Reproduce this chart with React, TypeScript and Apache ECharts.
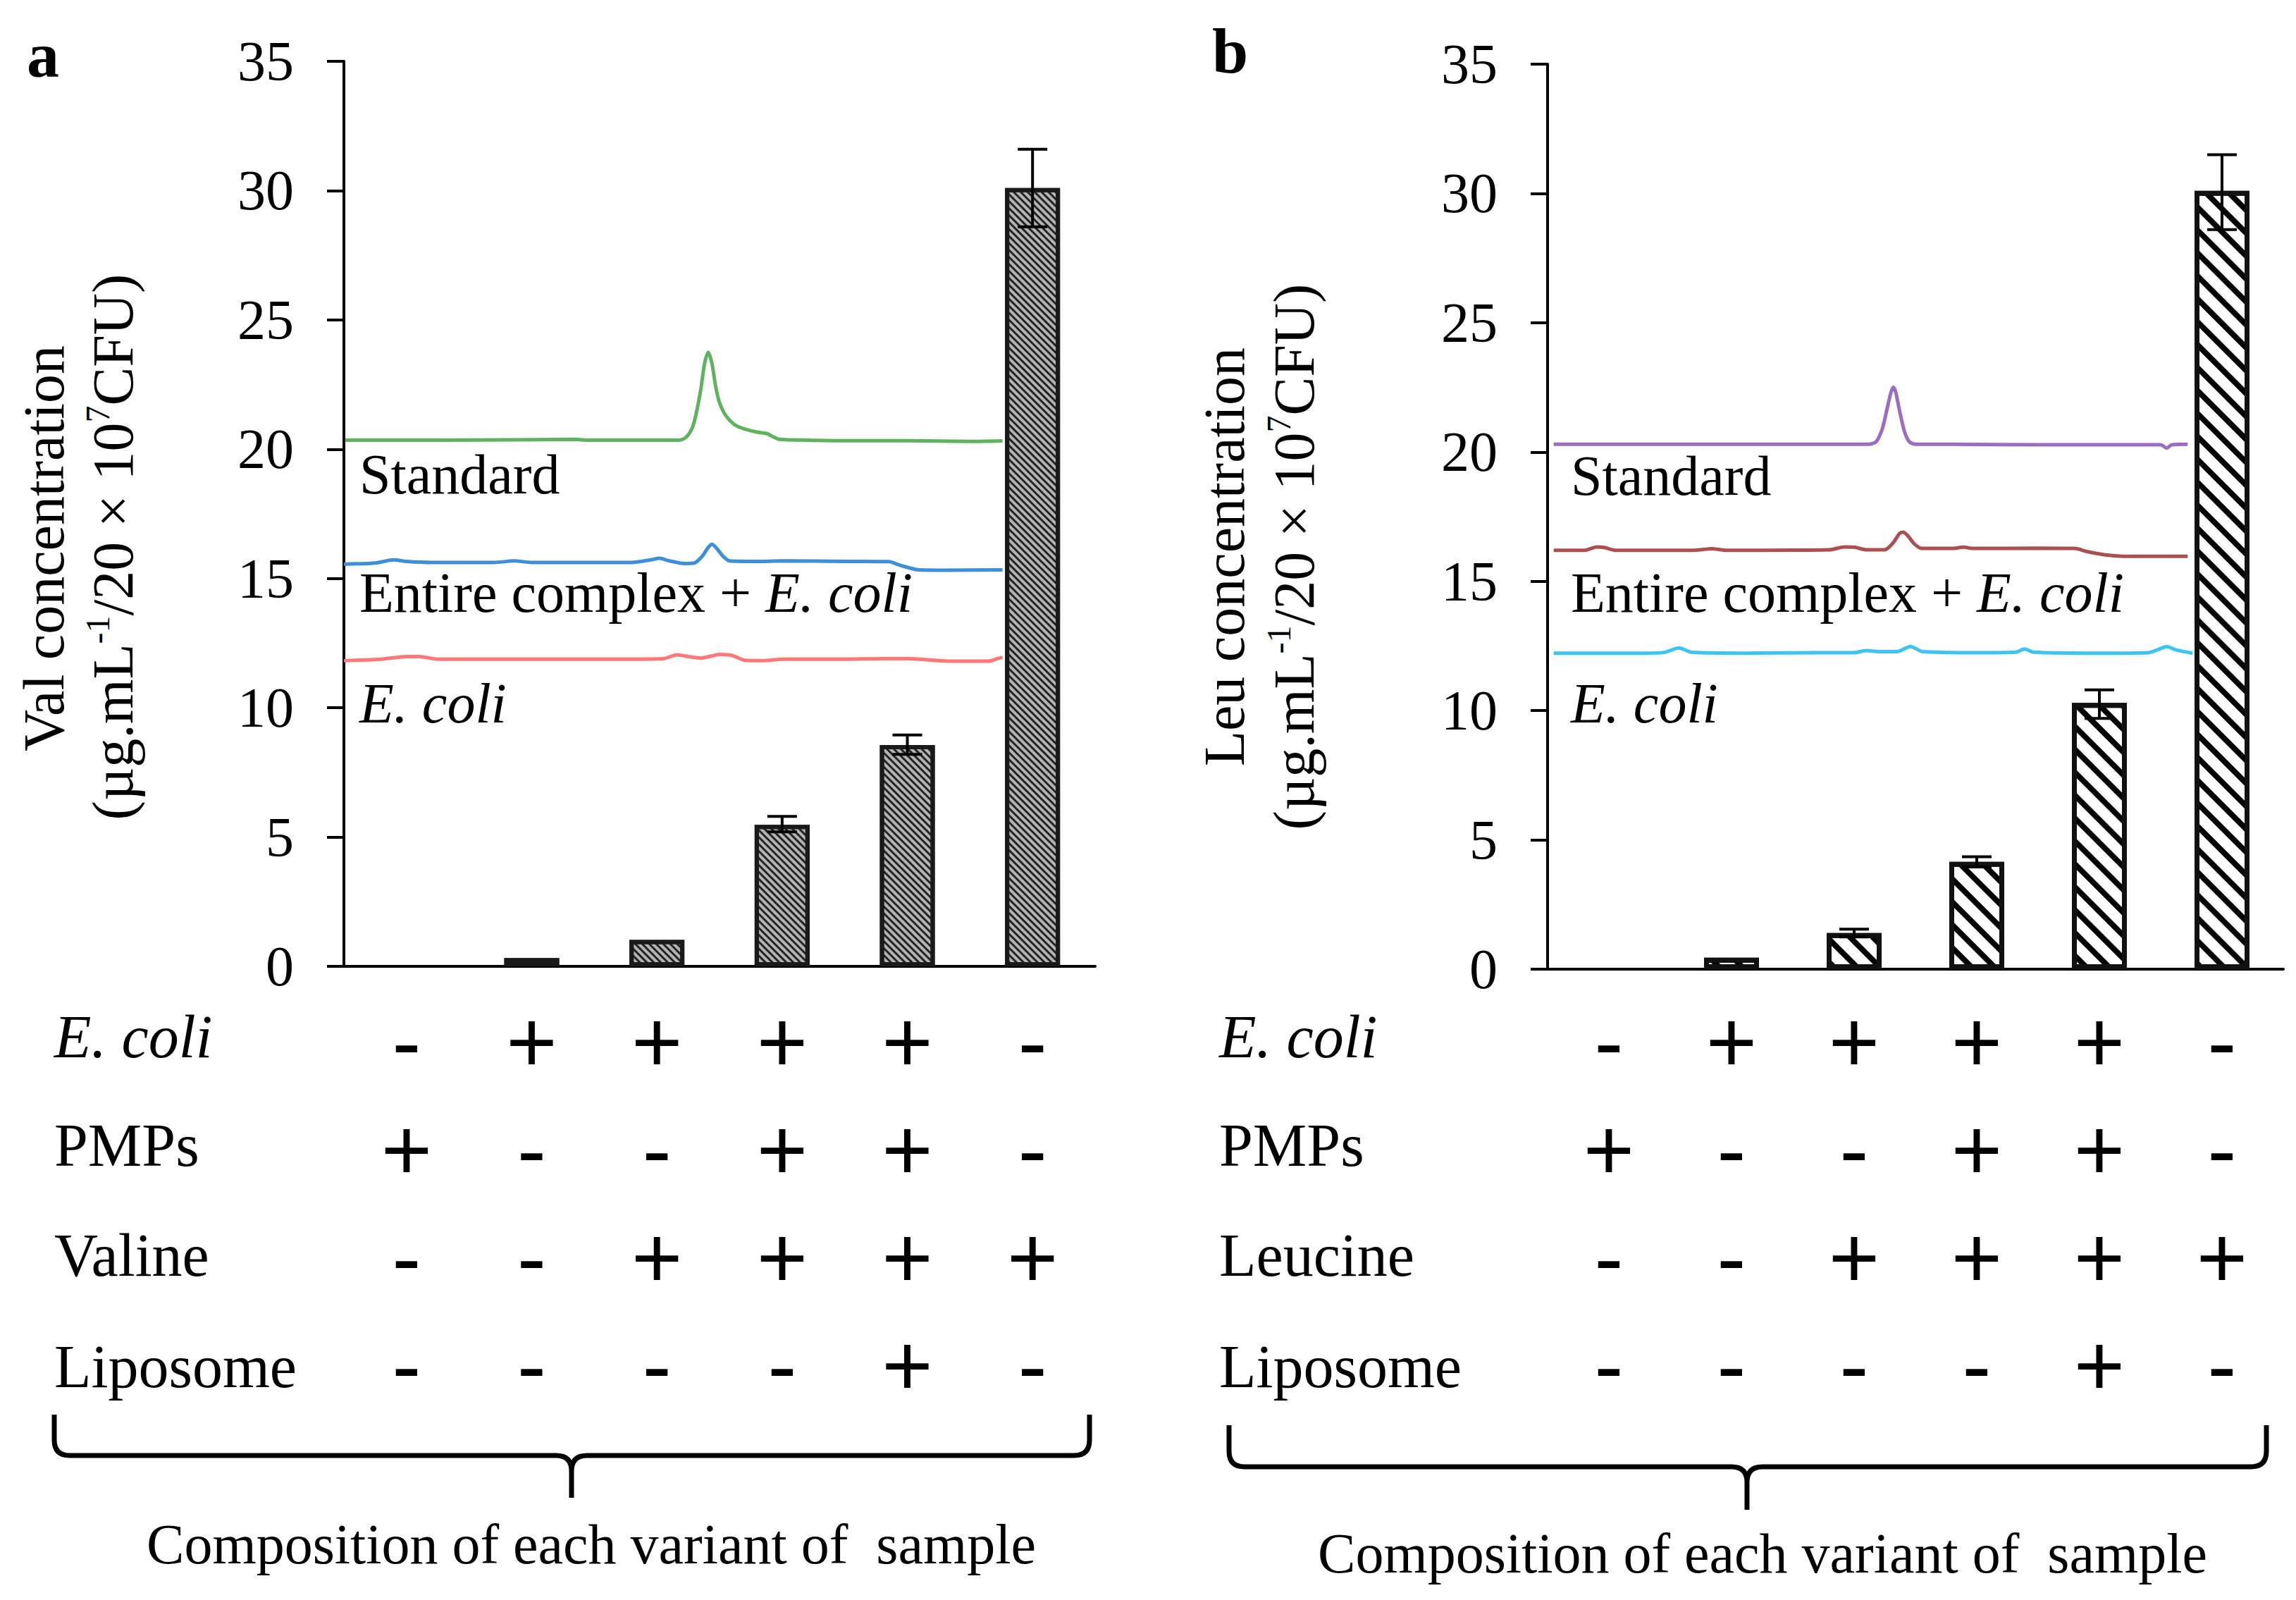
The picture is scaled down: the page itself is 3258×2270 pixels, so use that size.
import React, { useEffect, useRef } from "react";
import * as echarts from "echarts";

// ---------------- data ----------------
const categories = ["S1", "S2", "S3", "S4", "S5", "S6"];
const valuesA = [0, 0.32, 1.02, 5.47, 8.56, 30.1];
const errorsA = [
  [3, 5.2, 5.8],
  [4, 8.2, 8.95],
  [5, 28.6, 31.6],
];
const valuesB = [0, 0.44, 1.4, 4.15, 10.3, 30.1];
const errorsB = [
  [2, 1.25, 1.55],
  [3, 3.95, 4.35],
  [4, 9.7, 10.8],
  [5, 28.6, 31.5],
];
const yMin = 0;
const yMax = 35;
const yStep = 5;

const rowNamesA = ["E. coli", "PMPs", "Valine", "Liposome"];
const rowNamesB = ["E. coli", "PMPs", "Leucine", "Liposome"];
const signs = [
  ["-", "+", "+", "+", "+", "-"],
  ["+", "-", "-", "+", "+", "-"],
  ["-", "-", "+", "+", "+", "+"],
  ["-", "-", "-", "-", "+", "-"],
];

// chromatogram traces (x in category units 0..6, y in axis units)
const standardA = [[0.01,20.35],[0.8,20.35],[1.85,20.38],[1.95,20.35],[2.68,20.35],[2.73,20.45],[2.78,20.8],[2.81,21.3],[2.85,22.3],[2.88,23.3],[2.91,23.75],[2.94,23.3],[2.97,22.4],[3.0,21.8],[3.05,21.3],[3.12,20.95],[3.2,20.78],[3.3,20.66],[3.38,20.6],[3.42,20.5],[3.48,20.38],[3.7,20.35],[4.0,20.33],[4.5,20.33],[5.0,20.3],[5.26,20.32]];
const complexA = [[0.0,15.55],[0.25,15.6],[0.4,15.72],[0.5,15.66],[0.7,15.62],[1.2,15.62],[1.36,15.68],[1.5,15.62],[2.3,15.62],[2.45,15.72],[2.52,15.78],[2.6,15.68],[2.72,15.58],[2.8,15.6],[2.86,15.85],[2.91,16.2],[2.94,16.32],[2.98,16.15],[3.03,15.85],[3.08,15.68],[3.3,15.66],[3.5,15.68],[4.0,15.66],[4.35,15.65],[4.45,15.5],[4.58,15.34],[4.8,15.32],[5.26,15.33]];
const ecoliA = [[0.0,11.82],[0.3,11.88],[0.5,11.98],[0.6,11.98],[0.75,11.88],[1.5,11.88],[2.2,11.88],[2.55,11.9],[2.66,12.05],[2.75,11.98],[2.85,11.92],[3.0,12.06],[3.1,12.02],[3.2,11.84],[3.35,11.82],[3.5,11.88],[4.0,11.88],[4.3,11.9],[4.5,11.9],[4.65,11.86],[4.85,11.8],[5.15,11.8],[5.22,11.9],[5.26,11.95]];
const standardB = [[0.05,20.3],[1.0,20.3],[2.0,20.3],[2.62,20.3],[2.68,20.4],[2.73,20.9],[2.77,21.7],[2.8,22.3],[2.82,22.5],[2.84,22.3],[2.87,21.6],[2.91,20.8],[2.95,20.4],[3.0,20.3],[3.3,20.3],[4.0,20.28],[5.0,20.28],[5.05,20.15],[5.09,20.28],[5.22,20.3]];
const complexB = [[0.05,16.2],[0.3,16.2],[0.4,16.33],[0.47,16.3],[0.55,16.2],[1.2,16.2],[1.34,16.26],[1.45,16.2],[2.3,16.22],[2.42,16.33],[2.5,16.32],[2.6,16.22],[2.75,16.22],[2.82,16.5],[2.87,16.85],[2.9,16.9],[2.94,16.75],[2.99,16.45],[3.05,16.27],[3.3,16.27],[3.39,16.32],[3.47,16.27],[4.0,16.28],[4.3,16.27],[4.4,16.15],[4.55,16.02],[4.7,15.97],[5.22,15.97]];
const ecoliB = [[0.05,12.22],[0.8,12.22],[0.95,12.25],[1.07,12.42],[1.18,12.25],[1.6,12.22],[2.2,12.24],[2.5,12.24],[2.6,12.32],[2.7,12.28],[2.85,12.28],[2.96,12.48],[3.06,12.28],[3.5,12.24],[3.82,12.26],[3.89,12.38],[3.96,12.26],[4.5,12.22],[4.9,12.24],[5.0,12.4],[5.05,12.48],[5.12,12.35],[5.26,12.22]];

// ---------------- styles ----------------
const SERIF = '"Liberation Serif", "Times New Roman", serif';
const SANS = '"Liberation Sans", Arial, sans-serif';

function braceD(x0: number, x1: number, xm: number, yTop: number, yH: number, yTip: number) {
  const r = 22;
  return (
    `M${x0} ${yTop} L${x0} ${yH - r} Q${x0} ${yH} ${x0 + r} ${yH} L${xm - r} ${yH} Q${xm} ${yH} ${xm} ${yH + r} L${xm} ${yTip} ` +
    `M${xm} ${yH + r} Q${xm} ${yH} ${xm + r} ${yH} L${x1 - r} ${yH} Q${x1} ${yH} ${x1} ${yH - r} L${x1} ${yTop}`
  );
}

echarts.graphic.registerShape("braceA", echarts.graphic.extendPath(braceD(77, 1546, 811, 2007, 2065, 2125), {}));
echarts.graphic.registerShape("braceB", echarts.graphic.extendPath(braceD(1744, 3216, 2479, 2022, 2081, 2142), {}));

function errorRender(params: any, api: any) {
  const x = api.value(0);
  const lo = api.coord([x, api.value(1)]);
  const hi = api.coord([x, api.value(2)]);
  const w = 21;
  const st = { stroke: "#000", lineWidth: 4 };
  return {
    type: "group",
    children: [
      { type: "line", shape: { x1: lo[0], y1: lo[1], x2: hi[0], y2: hi[1] }, style: st },
      { type: "line", shape: { x1: lo[0] - w, y1: lo[1], x2: lo[0] + w, y2: lo[1] }, style: st },
      { type: "line", shape: { x1: hi[0] - w, y1: hi[1], x2: hi[0] + w, y2: hi[1] }, style: st },
    ],
  };
}

function yAxisCfg(gridIndex: number) {
  return {
    type: "value",
    gridIndex,
    min: yMin,
    max: yMax,
    interval: yStep,
    axisLine: { show: true, lineStyle: { color: "#000", width: 4 } },
    axisTick: { show: true, length: 24, lineStyle: { color: "#000", width: 4 } },
    axisLabel: { fontSize: 80, fontFamily: SERIF, color: "#000", margin: 71 },
    splitLine: { show: false },
  };
}

function catAxisCfg(gridIndex: number, margin: number) {
  return {
    type: "category",
    gridIndex,
    data: categories,
    axisLine: { show: true, lineStyle: { color: "#000", width: 4 } },
    axisTick: { show: false },
    axisLabel: {
      interval: 0,
      margin,
      formatter: (_v: string, i: number) => signs.map((r) => `{s|${r[i]}}`).join("\n"),
      rich: { s: { fontSize: 124, fontFamily: SANS, color: "#000", lineHeight: 153 } },
    },
  };
}

function traceAxisCfg(gridIndex: number) {
  return { type: "value", gridIndex, min: 0, max: 6, show: false };
}

function traceSeries(data: number[][], color: string, xAxisIndex: number, yAxisIndex: number) {
  return {
    type: "line",
    xAxisIndex,
    yAxisIndex,
    data,
    symbol: "none",
    showSymbol: false,
    smooth: 0.25,
    lineStyle: { color, width: 5 },
    z: 3,
  };
}

// bars with zero height are not drawn (no border)
function barData(values: number[]) {
  return values.map((v) => (v === 0 ? { value: v, itemStyle: { borderWidth: 0, opacity: 0 } } : v));
}

function text(x: number, y: number, t: string, opts: any = {}) {
  return {
    type: "text",
    x,
    y,
    rotation: opts.rotation || 0,
    style: {
      text: t,
      fontSize: opts.fontSize || 80,
      fontFamily: SERIF,
      fontStyle: opts.italic ? "italic" : "normal",
      fontWeight: opts.bold ? "bold" : "normal",
      fill: "#000",
      align: opts.align || "left",
      verticalAlign: "middle",
      rich: opts.rich,
    },
  };
}

const richMixed = {
  n: { fontSize: 80, fontFamily: SERIF, fill: "#000" },
  i: { fontSize: 80, fontFamily: SERIF, fontStyle: "italic", fill: "#000" },
};
const richUnit = {
  n: { fontSize: 82, fontFamily: SERIF, fill: "#000", lineHeight: 92 },
  s: { fontSize: 48, fontFamily: SERIF, fill: "#000", lineHeight: 92, verticalAlign: "top" },
};
const unitText = "{n|(µg.mL}{s|-1}{n|/20 × 10}{s|7}{n|CFU)}";

function rowLabels(x: number, names: string[]) {
  const ys = [1471, 1625, 1781, 1939];
  return names.map((n, k) => text(x, ys[k], n, { fontSize: 86, italic: n === "E. coli" }));
}

export default function App() {
  const ref = useRef<HTMLDivElement>(null);
  useEffect(() => {
    if (!ref.current) return;
    const chart = echarts.init(ref.current, null, { renderer: "svg" });
    const option: any = {
      animation: false,
      backgroundColor: "#fff",
      aria: { enabled: true, decal: { show: true } },
      grid: [
        { left: 488, top: 87, width: 1066, height: 1284 },
        { left: 2196, top: 91, width: 1044, height: 1284 },
      ],
      xAxis: [catAxisCfg(0, 30), traceAxisCfg(0), catAxisCfg(1, 26), traceAxisCfg(1)],
      yAxis: [yAxisCfg(0), yAxisCfg(1)],
      series: [
        {
          type: "bar",
          xAxisIndex: 0,
          yAxisIndex: 0,
          data: barData(valuesA),
          barWidth: 78,
          itemStyle: {
            color: "#b4b4b4",
            borderColor: "#1a1a1a",
            borderWidth: 6,
            decal: {
              symbol: "rect",
              symbolSize: 1,
              color: "rgba(20,20,20,0.9)",
              dashArrayX: [1, 0],
              dashArrayY: [3, 4],
              rotation: Math.PI / 4,
            },
          },
          z: 2,
        },
        {
          type: "custom",
          xAxisIndex: 0,
          yAxisIndex: 0,
          data: errorsA,
          encode: { x: 0, y: [1, 2] },
          renderItem: errorRender,
          z: 5,
        },
        traceSeries(standardA, "#5fb35f", 1, 0),
        traceSeries(complexA, "#3c8fd8", 1, 0),
        traceSeries(ecoliA, "#ff7878", 1, 0),
        {
          type: "bar",
          xAxisIndex: 2,
          yAxisIndex: 1,
          data: barData(valuesB),
          barWidth: 78,
          itemStyle: {
            color: "#ffffff",
            borderColor: "#111",
            borderWidth: 7,
            decal: {
              symbol: "rect",
              symbolSize: 1,
              color: "#000",
              dashArrayX: [1, 0],
              dashArrayY: [8, 15],
              rotation: Math.PI / 4,
            },
          },
          z: 2,
        },
        {
          type: "custom",
          xAxisIndex: 2,
          yAxisIndex: 1,
          data: errorsB,
          encode: { x: 0, y: [1, 2] },
          renderItem: errorRender,
          z: 5,
        },
        traceSeries(standardB, "#9a6cc2", 3, 1),
        traceSeries(complexB, "#ab4f4f", 3, 1),
        traceSeries(ecoliB, "#3ec4f2", 3, 1),
      ],
      graphic: [
        text(38, 78, "a", { fontSize: 92, bold: true }),
        text(1720, 72, "b", { fontSize: 92, bold: true }),
        // axis titles
        text(62, 778, "Val concentration", { fontSize: 82, align: "center", rotation: Math.PI / 2 }),
        text(160, 776, unitText, { fontSize: 82, align: "center", rotation: Math.PI / 2, rich: richUnit }),
        text(1737, 790, "Leu concentration", { fontSize: 82, align: "center", rotation: Math.PI / 2 }),
        text(1836, 790, unitText, { fontSize: 82, align: "center", rotation: Math.PI / 2, rich: richUnit }),
        // trace labels
        text(510, 673, "Standard"),
        text(510, 841, "{n|Entire complex + }{i|E. coli}", { rich: richMixed }),
        text(510, 998, "E. coli", { italic: true }),
        text(2229, 675, "Standard"),
        text(2229, 841, "{n|Entire complex + }{i|E. coli}", { rich: richMixed }),
        text(2229, 998, "E. coli", { italic: true }),
        // table row labels
        ...rowLabels(77, rowNamesA),
        ...rowLabels(1730, rowNamesB),
        // braces
        { type: "braceA", x: 0, y: 0, style: { stroke: "#000", lineWidth: 7, fill: "none" } },
        { type: "braceB", x: 0, y: 0, style: { stroke: "#000", lineWidth: 7, fill: "none" } },
        // captions
        text(839, 2191, "Composition of each variant of  sample", { align: "center" }),
        text(2501, 2204, "Composition of each variant of  sample", { align: "center" }),
      ],
    };
    chart.setOption(option);
    return () => chart.dispose();
  }, []);
  return (
    <div
      ref={ref}
      style={{ position: "absolute", left: 0, top: 0, width: 3258, height: 2270, background: "#fff" }}
    />
  );
}
